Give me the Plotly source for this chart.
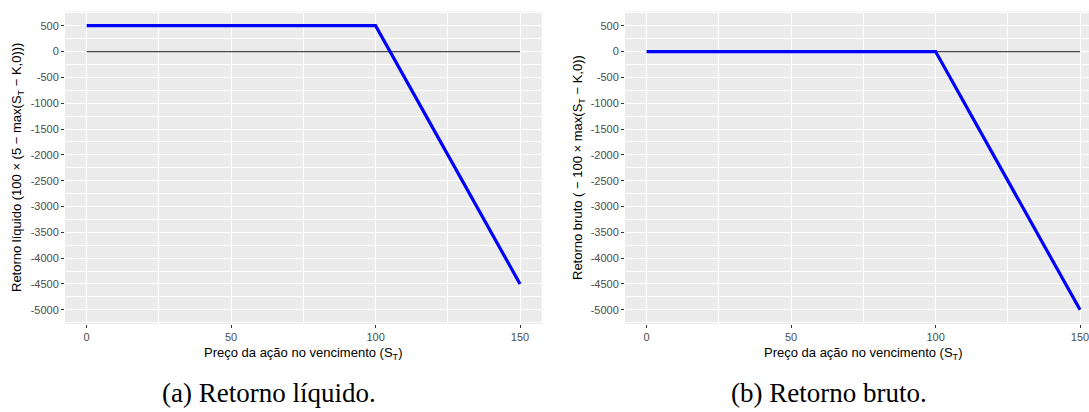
import plotly.graph_objects as go

# ---- data ----
preco = [0, 100, 150]                 # stock price at expiry (S_T)
retorno_liquido = [500, 500, -4500]   # panel (a)
retorno_bruto = [0, 0, -5000]         # panel (b)
zero_x = [0, 150]
zero_y = [0, 0]

x_ticks = [0, 50, 100, 150]
x_ticklabels = ["0", "50", "100", "150"]
y_ticks = [500, 0, -500, -1000, -1500, -2000, -2500, -3000, -3500, -4000, -4500, -5000]
y_ticklabels = ["500", "0", "-500", "-1000", "-1500", "-2000", "-2500", "-3000",
                "-3500", "-4000", "-4500", "-5000"]

W, H = 1089, 412

def px(x):
    return x / W

def py(y):
    return 1 - y / H

fig = go.Figure()

for i, (yvals, xa, ya) in enumerate([(retorno_liquido, "x", "y"), (retorno_bruto, "x2", "y2")]):
    fig.add_trace(go.Scatter(x=zero_x, y=zero_y, mode="lines", xaxis=xa, yaxis=ya,
                             line=dict(color="#4a4a4a", width=1.3), showlegend=False,
                             hoverinfo="skip"))
    fig.add_trace(go.Scatter(x=preco, y=yvals, mode="lines", xaxis=xa, yaxis=ya,
                             line=dict(color="#0000FF", width=3.2), showlegend=False))

tick_font = dict(family="Liberation Sans, Arial, sans-serif", size=11, color="#4D4D4D")
grid = dict(showgrid=True, gridcolor="white", gridwidth=1.1, zeroline=False,
            ticks="outside", ticklen=3, tickwidth=1, tickcolor="#333333",
            tickfont=tick_font, showline=False, ticklabeloverflow="allow")

ydom = [py(324), py(11.5)]
fig.update_layout(
    width=W, height=H,
    margin=dict(l=0, r=0, t=0, b=0),
    paper_bgcolor="white",
    plot_bgcolor="#EBEBEB",
    xaxis=dict(domain=[px(65), px(541.7)], range=[-7.5, 157.5], tickvals=x_ticks,
               ticktext=x_ticklabels, anchor="y",
               minor=dict(dtick=25, tick0=0, showgrid=True, gridcolor="white", gridwidth=0.55),
               **grid),
    yaxis=dict(domain=ydom, range=[-5275, 775], tickvals=y_ticks, ticktext=y_ticklabels,
               anchor="x",
               minor=dict(dtick=250, tick0=0, showgrid=True, gridcolor="white", gridwidth=0.55),
               **grid),
    xaxis2=dict(domain=[px(625), 1.0], range=[-7.5, 153.1], tickvals=x_ticks,
                ticktext=x_ticklabels, anchor="y2",
                minor=dict(dtick=25, tick0=0, showgrid=True, gridcolor="white", gridwidth=0.55),
                **grid),
    yaxis2=dict(domain=ydom, range=[-5275, 775], tickvals=y_ticks, ticktext=y_ticklabels,
                anchor="x2",
                minor=dict(dtick=250, tick0=0, showgrid=True, gridcolor="white", gridwidth=0.55),
                **grid),
)

title_font = dict(family="Liberation Sans, Arial, sans-serif", size=13, color="black")
cap_font = dict(family="Liberation Serif, Times New Roman, serif", size=27, color="black")

ann = [
    dict(text="Retorno líquido (100 × (5 − max(S<sub>T</sub> − K,0)))", x=px(17), y=py(168),
         textangle=-90, font=title_font),
    dict(text="Retorno bruto ( − 100 × max(S<sub>T</sub> − K,0))", x=px(578), y=py(168),
         textangle=-90, font=title_font),
    dict(text="Preço da ação no vencimento (S<sub>T</sub>)", x=px(303.4), y=py(353),
         font=title_font),
    dict(text="Preço da ação no vencimento (S<sub>T</sub>)", x=px(863.4), y=py(353),
         font=title_font),
    dict(text="(a) Retorno líquido.", x=px(269), y=py(393), font=cap_font),
    dict(text="(b) Retorno bruto.", x=px(828.5), y=py(393), font=cap_font),
]
for a in ann:
    fig.add_annotation(xref="paper", yref="paper", showarrow=False,
                       xanchor="center", yanchor="middle", **a)

fig.write_html("out.html", config={"displayModeBar": False},
               post_script="document.body.style.margin='0px';document.body.style.overflow='hidden';")
